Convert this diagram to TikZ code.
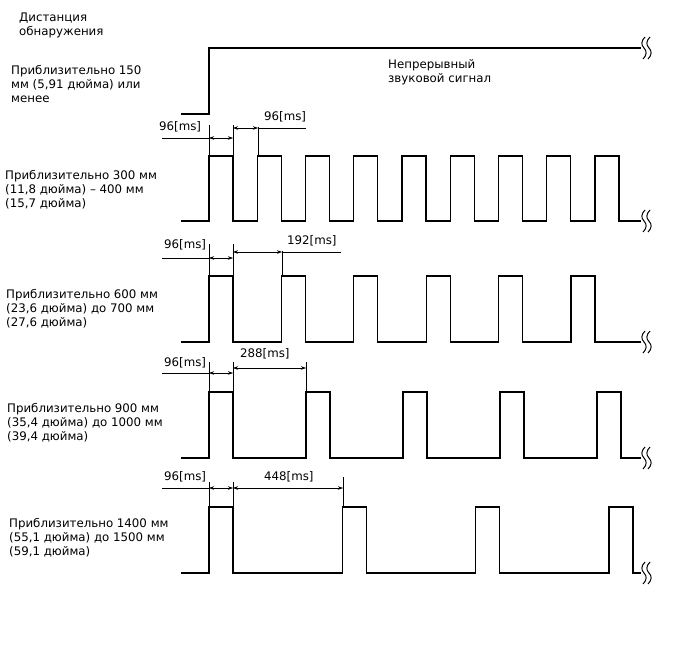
\documentclass[tikz,border=0pt]{standalone}
\usepackage{fontspec}
\setmainfont{DejaVu Sans}
\usetikzlibrary{arrows.meta}
\tikzset{
  sig/.style={line width=1.3pt,line join=miter},
  ext/.style={line width=0.5pt},
  dim/.style={line width=0.5pt,{Stealth[length=5pt,width=3.5pt]}-{Stealth[length=5pt,width=3.5pt]}},
  txt/.style={anchor=north west,align=left,inner sep=0pt,font=\fontsize{11.8}{14}\selectfont},
  ms/.style={anchor=base west,inner sep=0pt,font=\fontsize{11.8}{14}\selectfont},
  brk/.pic={
    \foreach \d in {0,5}
      \draw[line width=1pt] (\d+1,-11) .. controls (\d-3,-7) and (\d-3,-3) .. (\d,0)
        .. controls (\d+3,3) and (\d+3,7) .. (\d-1,11);
  }
}
\begin{document}
\begin{tikzpicture}[x=1pt,y=-1pt]
  \useasboundingbox (0,0) rectangle (688,658);
  % labels
  \node[txt] (t0) at (19,13) {Дистанция\\обнаружения};
  \node[txt] (t1) at (11,65) {Приблизительно 150\\мм (5,91 дюйма) или\\менее};
  \node[txt] (t2) at (5,170) {Приблизительно 300 мм\\(11,8 дюйма) – 400 мм\\(15,7 дюйма)};
  \node[txt] (t3) at (6,289) {Приблизительно 600 мм\\(23,6 дюйма) до 700 мм\\(27,6 дюйма)};
  \node[txt] (t4) at (7,403) {Приблизительно 900 мм\\(35,4 дюйма) до 1000 мм\\(39,4 дюйма)};
  \node[txt] (t5) at (9,518) {Приблизительно 1400 мм\\(55,1 дюйма) до 1500 мм\\(59,1 дюйма)};
  \node[txt] (tc) at (388,59) {Непрерывный\\звуковой сигнал};
  % signals
  \draw[sig] (181,114) -- (209,114) -- (209,48) -- (641,48);
  \draw[sig] (181,221) \foreach \i in {0,...,8} {
    -- ({209+48.25*\i},221) -- ({209+48.25*\i},156) -- ({233+48.25*\i},156) -- ({233+48.25*\i},221)} -- (641,221);
  \draw[sig] (181,342) \foreach \i in {0,...,5} {
    -- ({209+72.4*\i},342) -- ({209+72.4*\i},276) -- ({233+72.4*\i},276) -- ({233+72.4*\i},342)} -- (641,342);
  \draw[sig] (181,458) \foreach \i in {0,...,4} {
    -- ({209+97*\i},458) -- ({209+97*\i},392) -- ({233+97*\i},392) -- ({233+97*\i},458)} -- (641,458);
  \draw[sig] (181,573) \foreach \i in {0,...,3} {
    -- ({209+133.3*\i},573) -- ({209+133.3*\i},507) -- ({233+133.3*\i},507) -- ({233+133.3*\i},573)} -- (641,573);
  \foreach \y in {48,221,342,458,573}
    \pic at (644,\y) {brk};
  % 300 mm
  \coordinate (a0) at (162,138);
  \coordinate (a1) at (209,138);
  \coordinate (a2) at (233,138);
  \coordinate (a3) at (233,128);
  \coordinate (a4) at (258,128);
  \coordinate (a5) at (306,128);
  \draw[ext] (209,125) -- (209,156) (233,125) -- (233,156) (258,127) -- (258,156);
  \draw[ext] (a0) -- (a1);
  \draw[dim] (a1) -- (a2);
  \draw[dim] (a3) -- (a4);
  \draw[ext] (a4) -- (a5);
  \node[ms] (m2a) at (159,131) {96[ms]};
  \node[ms] (m2b) at (264,121) {96[ms]};
  % 600 mm
  \coordinate (b0) at (162,258);
  \coordinate (b1) at (209,258);
  \coordinate (b2) at (233,258);
  \coordinate (b3) at (233,252);
  \coordinate (b4) at (282,252);
  \coordinate (b5) at (341,252);
  \draw[ext] (209,244) -- (209,276) (233,244) -- (233,276) (282,251) -- (282,276);
  \draw[ext] (b0) -- (b1);
  \draw[dim] (b1) -- (b2);
  \draw[dim] (b3) -- (b4);
  \draw[ext] (b4) -- (b5);
  \node[ms] (m3a) at (164,248) {96[ms]};
  \node[ms] (m3b) at (287,244) {192[ms]};
  % 900 mm
  \coordinate (c0) at (162,373);
  \coordinate (c1) at (209,373);
  \coordinate (c2) at (233,373);
  \coordinate (c3) at (233,368);
  \coordinate (c4) at (306,368);
  \draw[ext] (209,362) -- (209,392) (233,362) -- (233,392) (306,362) -- (306,392);
  \draw[ext] (c0) -- (c1);
  \draw[dim] (c1) -- (c2);
  \draw[dim] (c3) -- (c4);
  \node[ms] (m4a) at (164,366) {96[ms]};
  \node[ms] (m4b) at (240,357) {288[ms]};
  % 1400 mm
  \coordinate (d0) at (162,488);
  \coordinate (d1) at (209,488);
  \coordinate (d2) at (233,488);
  \coordinate (d3) at (343,488);
  \draw[ext] (209,482) -- (209,507) (233,482) -- (233,507) (343,477) -- (343,507);
  \draw[ext] (d0) -- (d1);
  \draw[dim] (d1) -- (d2);
  \draw[dim] (d2) -- (d3);
  \node[ms] (m5a) at (164,480) {96[ms]};
  \node[ms] (m5b) at (264,480) {448[ms]};
\end{tikzpicture}
\end{document}
